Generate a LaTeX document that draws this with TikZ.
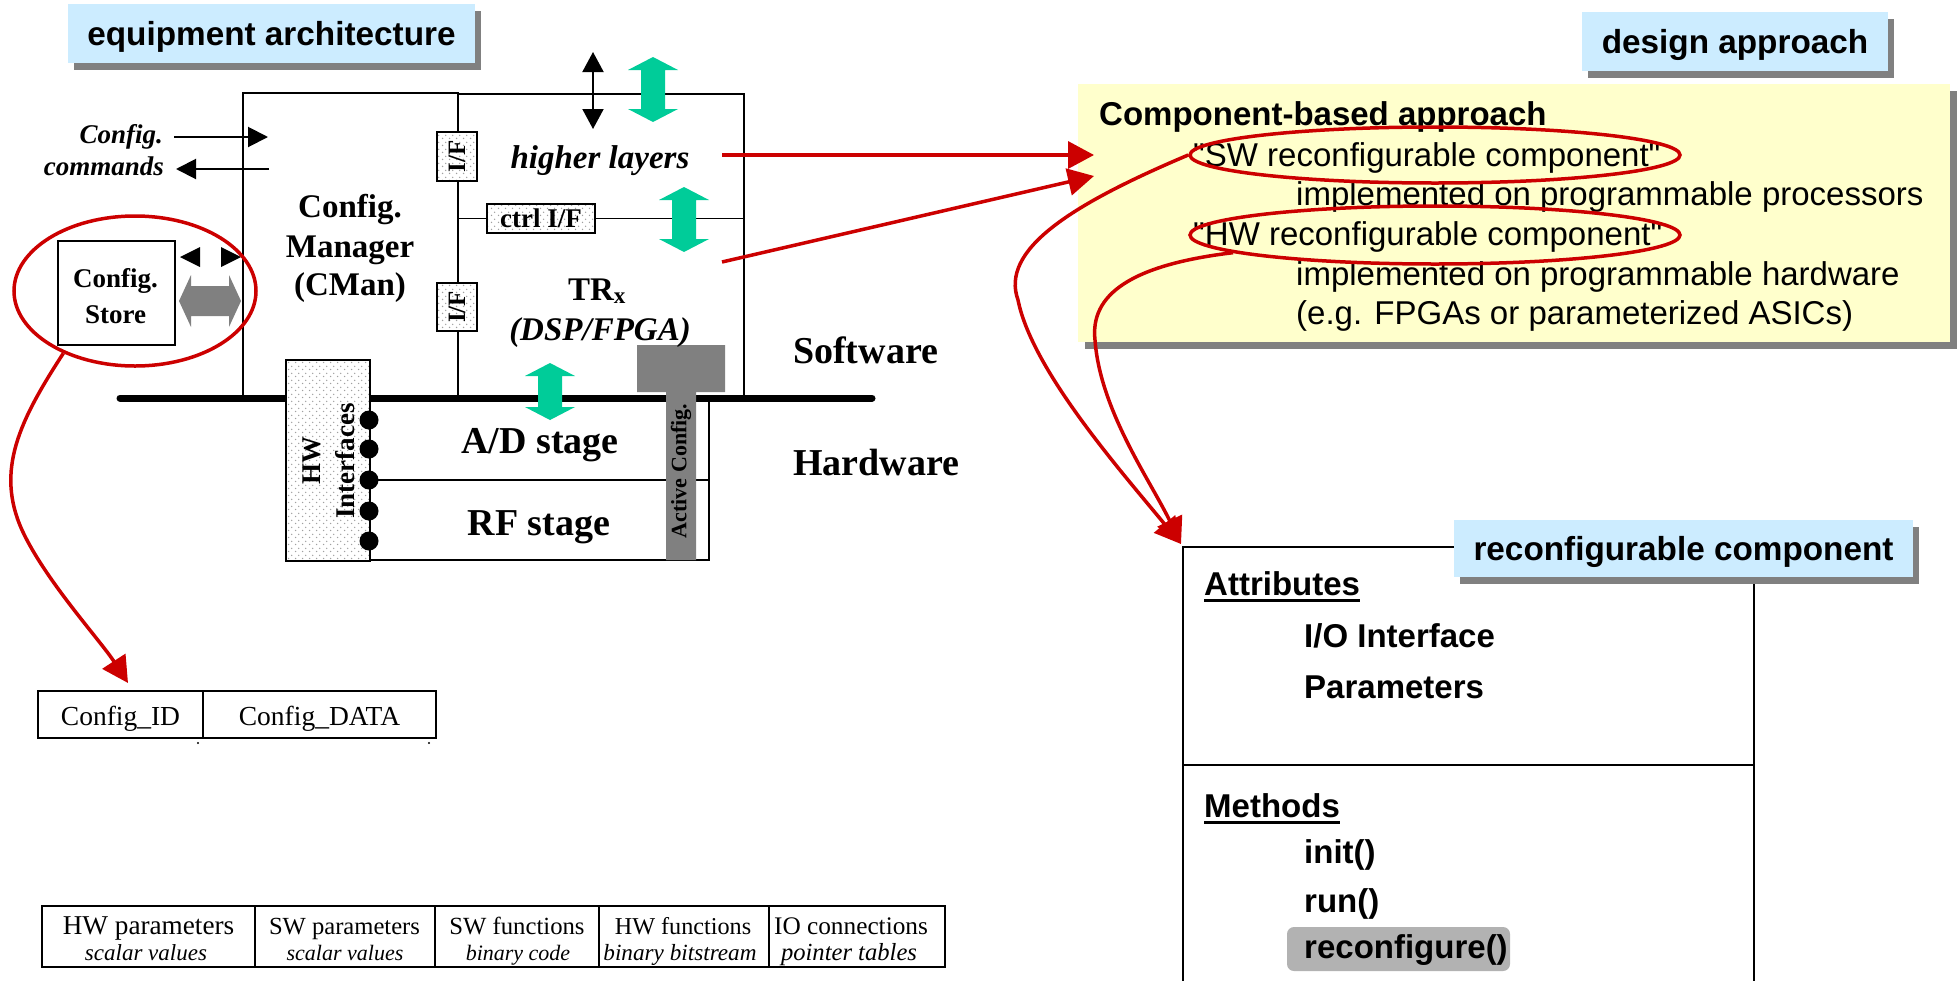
\documentclass[tikz,border=0pt]{standalone}
\usepackage{fontspec}
\usepackage{graphicx}
\setmainfont{Liberation Serif}
\newfontfamily\arialfont{Liberation Sans}
\usetikzlibrary{arrows.meta,patterns.meta,shadows,shapes.geometric}
\newcommand\fsz[1]{\fontsize{#1}{#1}\selectfont}
\definecolor{lblue}{HTML}{CCECFF}
\definecolor{shgray}{HTML}{808080}
\definecolor{lyellow}{HTML}{FFFFCC}
\definecolor{dred}{HTML}{CC0000}
\definecolor{tealc}{HTML}{00CC99}
\definecolor{hlgray}{HTML}{B2B2B2}
\definecolor{dotgray}{HTML}{A0A0A0}
\tikzdeclarepattern{
  name=stipple,
  type=colored,
  bottom left={(0pt,0pt)},
  top right={(7pt,7pt)},
  tile size={(7pt,7pt)},
  code={
    \fill[dotgray] (1.75pt,1.75pt) circle (0.85pt);
    \fill[dotgray] (5.25pt,5.25pt) circle (0.85pt);
  }
}
\newcommand\vdblarrow[4]{%
  \fill[#1] (#2,#3) -- ++(25,13) -- ++(-13,0) -- (#2+12,#4-13) -- ++(13,0) -- (#2,#4)
   -- ++(-25,-13) -- ++(13,0) -- (#2-12,#3+13) -- ++(-13,0) -- cycle;}
\begin{document}
\begin{tikzpicture}[x=1pt,y=-1pt,
  ln/.style={line width=1.6pt},
  redln/.style={draw=dred, line width=3.5pt},
  redarr/.style={redln, -{Triangle[length=26pt,width=27pt]}},
  blkarr/.style={line width=2pt, -{Triangle[length=20pt,width=20pt]}},
  titlebox/.style={fill=lblue, inner sep=0pt, text depth=0pt, font=\arialfont\fsz{33.3}\bfseries,
     drop shadow={shadow xshift=6pt, shadow yshift=-7pt, fill=shgray, opacity=1}},
  stip/.style={draw, ln, inner sep=0pt, preaction={fill=white}, pattern=stipple},
  box/.style={draw, ln, inner sep=0pt, anchor=north west},
  redell/.style={ellipse, draw=dred, line width=3.5pt, inner sep=0pt},
  sb/.style={inner sep=0pt, font=\fsz{#1}\bfseries},
  sbi/.style={inner sep=0pt, font=\fsz{#1}\bfseries\itshape},
  sr/.style={inner sep=0pt, anchor=base, font=\fsz{#1}},
  sri/.style={inner sep=0pt, anchor=base, font=\fsz{#1}\itshape},
  ar/.style={inner sep=0pt, anchor=base west, font=\arialfont\fsz{33}},
  arb/.style={inner sep=0pt, anchor=base west, font=\arialfont\fsz{33}\bfseries},
]
\useasboundingbox (0,0) rectangle (1959,980);
\fill[white] (0,0) rectangle (1959,980);

% ---------- title boxes ----------
\node[titlebox, minimum width=407pt, minimum height=59pt] (eqtitle) at (271.5,33.5) {equipment architecture};
\node[titlebox, minimum width=306pt, minimum height=59pt] (dstitle) at (1735,41.5) {design approach};

% ---------- design approach box ----------
\node[fill=lyellow, inner sep=0pt, minimum width=872pt, minimum height=258pt, anchor=north west,
  drop shadow={shadow xshift=7pt, shadow yshift=-7pt, fill=shgray, opacity=1}] (approach) at (1078,84) {};
\node[ar, font=\arialfont\fsz{33}\bfseries] (cba) at (1099,125) {Component-based approach};
\node[ar] (swc) at (1193,166) {"SW reconfigurable component"};
\node[ar] (impl1) at (1296,205) {implemented on programmable processors};
\node[ar] (hwc) at (1193,245) {"HW reconfigurable component"};
\node[ar] (impl2) at (1296,285) {implemented on programmable hardware};
\node[ar] (eg) at (1296,324) {(e.g. FPGAs or parameterized ASICs)};

% ---------- reconfigurable component (UML) ----------
\draw[line width=2pt] (1183,990) -- (1183,547) -- (1754,547) -- (1754,990);
\draw[line width=2pt] (1183,765) -- (1754,765);
\node[titlebox, minimum width=459pt, minimum height=57pt] (rctitle) at (1683.5,548.5) {reconfigurable component};
\fill[hlgray, rounded corners=7pt] (1287,927) rectangle (1510,971);
\node[arb] (attr) at (1204,595) {Attributes};
\draw[line width=3pt] ([yshift=-5pt]attr.base west) -- ([yshift=-5pt]attr.base east);
\node[arb] (ioif) at (1304,647) {I/O Interface};
\node[arb] (params) at (1304,698) {Parameters};
\node[arb] (meth) at (1204,817) {Methods};
\draw[line width=3pt] ([yshift=-5pt]meth.base west) -- ([yshift=-5pt]meth.base east);
\node[arb] (init) at (1304,863) {init()};
\node[arb] (run) at (1304,912) {run()};
\node[arb] (reconf) at (1304,958) {reconfigure()};

% ---------- equipment architecture ----------
\node[box, minimum width=215pt, minimum height=306pt] (cman) at (242,92) {};
\node[box, minimum width=286pt, minimum height=305pt] (trx) at (457,93) {};
\node[stip, minimum width=108pt, minimum height=29pt, font=\fsz{27}\bfseries] (ctrlif) at (541,218.5) {ctrl I/F};
\draw[ln] (ctrlif.west) -- (ctrlif.west -| cman.east);
\draw[ln] (ctrlif.east) -- (ctrlif.east -| trx.east);
\node[stip, minimum width=40pt, minimum height=49pt, font=\fsz{25}\bfseries] (if1) at (457,156.5) {\rotatebox{90}{I/F}};
\node[stip, minimum width=40pt, minimum height=48pt, font=\fsz{25}\bfseries] (if2) at (457,307) {\rotatebox{90}{I/F}};

% A/D and RF stages
\draw[ln] (709,398) -- (709,560) -- (285,560);
\draw[ln] (369,480) -- (709,480);
% bus
\coordinate (busl) at (120,398);
\coordinate (busr) at (872,398);
\draw[line width=7pt, line cap=round] (busl) -- (busr);
% HW interfaces
\node[stip, minimum width=84pt, minimum height=201pt, anchor=north west] (hwif) at (285,359) {};
\foreach \yy in {420,449,480,511,541} \fill (369,\yy) circle (9.5pt);
% active config T
\fill[shgray] (637,345) -- (725,345) -- (725,392) -- (696,392) -- (696,560) -- (666,560) -- (666,392) -- (637,392) -- cycle;
% teal arrows
\vdblarrow{tealc}{653}{57}{122}
\vdblarrow{tealc}{684}{187}{252}
\vdblarrow{tealc}{550}{363}{420}
% black double arrow
\coordinate (bat) at (593,52);
\coordinate (bab) at (593,129);
\draw[line width=2pt, {Triangle[length=20pt,width=21pt]}-{Triangle[length=20pt,width=21pt]}] (bat) -- (bab);
% config commands
\coordinate (cmdin0) at (174,137);
\coordinate (cmdin1) at (268,137);
\coordinate (cmdout0) at (269,169);
\coordinate (cmdout1) at (176,169);
\draw[blkarr] (cmdin0) -- (cmdin1);
\draw[blkarr] (cmdout0) -- (cmdout1);
% config store
\node[box, minimum width=117pt, minimum height=104pt] (store) at (57,240) {};
\fill (180,257) -- (200,247) -- (200,267) -- cycle;
\fill (241,257) -- (221,247) -- (221,267) -- cycle;
\fill[shgray] (179,301) -- (191,275) -- (191,286) -- (229,286) -- (229,275) -- (241,301) -- (229,327) -- (229,316) -- (191,316) -- (191,327) -- cycle;

% texts
\node[sbi=27, anchor=base east] (cc1) at (163,143) {Config.};
\node[sbi=27, anchor=base east] (cc2) at (164,175) {commands};
\node[sb=27, anchor=base] (st1) at (115.5,287) {Config.};
\node[sb=27, anchor=base] (st2) at (115.5,323) {Store};
\node[sb=33, anchor=base] (cm1) at (350,217) {Config.};
\node[sb=33, anchor=base] (cm2) at (350,257) {Manager};
\node[sb=33, anchor=base] (cm3) at (350,295) {(CMan)};
\node[sbi=33, anchor=base] (hl) at (600,168) {higher layers};
\node[sb=33, anchor=base] (trx1) at (597,300) {TR\textsubscript{x}};
\node[sbi=33, anchor=base] (trx2) at (600,340) {(DSP/FPGA)};
\node[sb=38, anchor=base] (ad) at (540,453) {A/D stage};
\node[sb=38, anchor=base] (rf) at (539,535) {RF stage};
\node[sb=38, anchor=base west] (swl) at (793,363) {Software};
\node[sb=38, anchor=base west] (hwl) at (793,475) {Hardware};
\node[sb=27, rotate=90] (hwt1) at (312,460) {HW};
\node[sb=27, rotate=90] (hwt2) at (345,461) {Interfaces};
\node[sb=22, rotate=90] (actcfg) at (681,471) {Active Config.};

% ---------- data tables ----------
\draw[line width=2pt] (38,691) rectangle (436,738);
\draw[line width=2pt] (203,691) -- (203,738);
\node[sr=27.5] (cid) at (120.5,725) {Config\_ID};
\node[sr=27.5] (cdata) at (319.5,725) {Config\_DATA};
\fill (198,743) circle (1.2pt);
\fill (429,743) circle (1.2pt);

\draw[line width=2pt] (42,906) rectangle (945,967);
\foreach \xx in {255,435,599,769} \draw[line width=2pt] (\xx,906) -- (\xx,967);
\node[sr=27.2] (c1a) at (148.5,934) {HW parameters};
\node[sri=23] (c1b) at (146,960) {scalar values};
\node[sr=24.6] (c2a) at (344.5,934) {SW parameters};
\node[sri=22] (c2b) at (345,960) {scalar values};
\node[sr=24.7] (c3a) at (517,934) {SW functions};
\node[sri=22] (c3b) at (518,960) {binary code};
\node[sr=24.2] (c4a) at (683,934) {HW functions};
\node[sri=23.2] (c4b) at (680,960) {binary bitstream};
\node[sr=25.3] (c5a) at (851,934) {IO connections};
\node[sri=24.6] (c5b) at (849,960) {pointer tables};

% ---------- red highlights ----------
\node[redell, minimum width=242pt, minimum height=150pt] (storeell) at (135,291) {};
\node[redell, minimum width=490pt, minimum height=56pt] (swell) at (1435,155) {};
\node[redell, minimum width=490pt, minimum height=58pt] (hwell) at (1435,235) {};
\coordinate (hlout) at (722,155);
\coordinate (apin1) at (1094,155);
\coordinate (trxout) at (722,262);
\coordinate (apin2) at (1094,176);
\coordinate (rctip) at (1181,544);
\coordinate (cfgtip) at (128,683);
\draw[redarr] (hlout) -- (apin1);
\draw[redarr] (trxout) -- (apin2);
\draw[redarr] (swell.west) .. controls (1070,205) and (1000,250) .. (1018,300)
   .. controls (1032,370) and (1120,470) .. (rctip);
\draw[redarr] (hwell.185) .. controls (1130,265) and (1090,295) .. (1095,340)
   .. controls (1100,410) and (1150,480) .. (rctip);
\draw[redarr] (storeell.221) .. controls (20,420) and (-5,470) .. (22,530)
   .. controls (45,580) and (100,640) .. (cfgtip);
\end{tikzpicture}
\end{document}
